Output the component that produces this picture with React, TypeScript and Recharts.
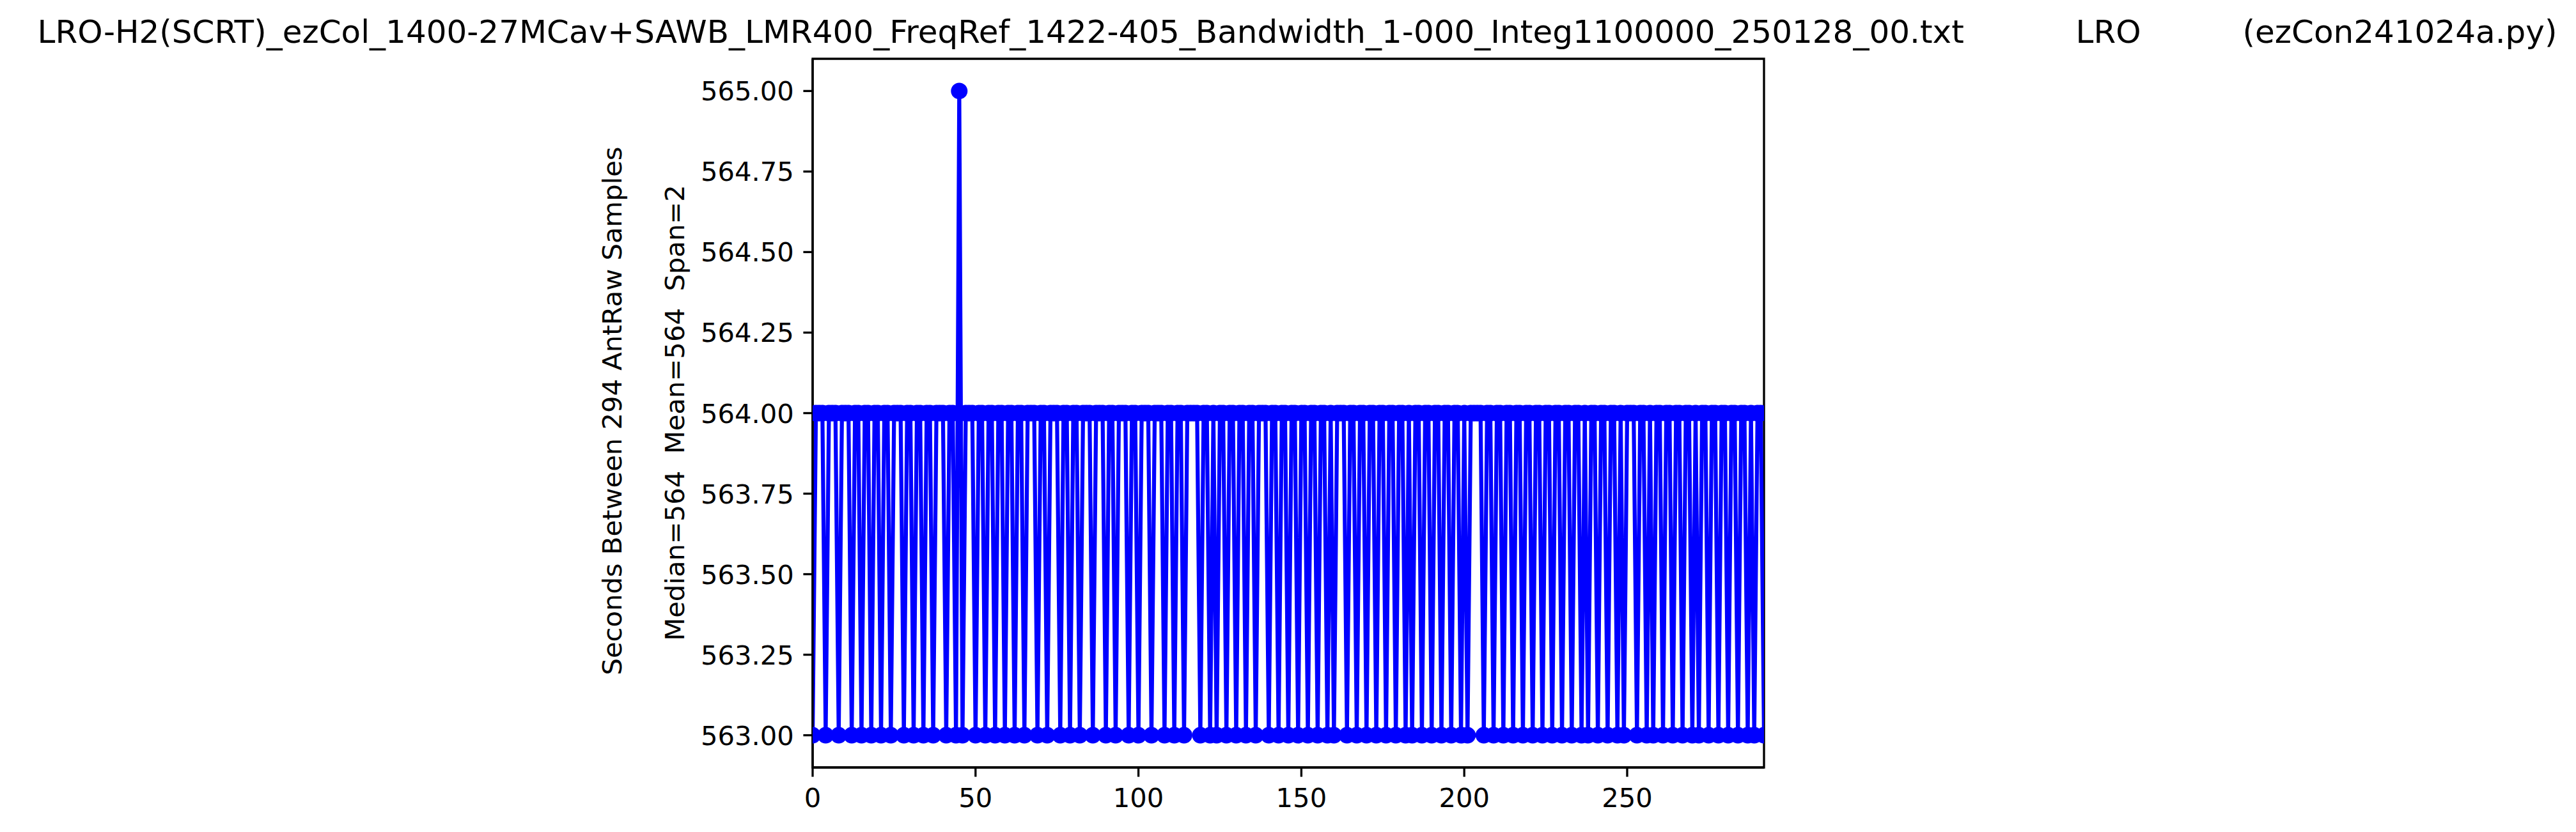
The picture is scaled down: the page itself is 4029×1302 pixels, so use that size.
import React from "react";
import { LineChart, Line, XAxis, YAxis, ReferenceArea } from "recharts";

// seconds between consecutive raw samples (293 gaps for 294 samples)
const gapSeconds = [
  563, 564, 564, 564, 563, 564, 564, 564, 563, 564,
  564, 564, 563, 564, 564, 563, 564, 564, 563, 564,
  564, 563, 564, 564, 563, 564, 564, 564, 563, 564,
  564, 563, 564, 564, 563, 564, 564, 563, 564, 564,
  564, 563, 564, 564, 563, 565, 563, 564, 564, 564,
  563, 564, 564, 563, 564, 564, 563, 564, 564, 563,
  564, 564, 563, 564, 564, 563, 564, 564, 564, 563,
  564, 564, 563, 564, 564, 564, 563, 564, 564, 563,
  564, 564, 563, 564, 564, 564, 563, 564, 564, 564,
  563, 564, 564, 563, 564, 564, 564, 563, 564, 564,
  563, 564, 564, 564, 563, 564, 564, 564, 563, 564,
  564, 563, 564, 564, 563, 564, 564, 564, 564, 563,
  564, 564, 563, 564, 563, 564, 564, 563, 564, 564,
  563, 564, 564, 563, 564, 564, 563, 564, 564, 564,
  563, 564, 564, 563, 564, 564, 563, 564, 564, 563,
  564, 564, 563, 564, 564, 563, 564, 564, 563, 564,
  563, 564, 564, 564, 563, 564, 564, 563, 564, 564,
  563, 564, 564, 563, 564, 564, 563, 564, 564, 563,
  564, 564, 563, 564, 563, 564, 564, 563, 564, 564,
  563, 564, 564, 563, 564, 564, 563, 564, 564, 563,
  564, 563, 564, 564, 564, 564, 563, 564, 564, 563,
  564, 564, 563, 564, 564, 563, 564, 564, 563, 564,
  564, 563, 564, 564, 563, 564, 564, 563, 564, 564,
  563, 564, 564, 563, 564, 564, 563, 564, 563, 564,
  564, 563, 564, 564, 563, 564, 564, 563, 564, 563,
  564, 564, 564, 563, 564, 564, 563, 564, 563, 564,
  564, 563, 564, 564, 563, 564, 564, 563, 564, 564,
  563, 564, 563, 564, 564, 563, 564, 564, 563, 564,
  564, 563, 564, 564, 563, 564, 564, 563, 564, 563,
  564, 564, 563,
];

const xTicks = [0, 50, 100, 150, 200, 250];
const yTicks = [563, 563.25, 563.5, 563.75, 564, 564.25, 564.5, 564.75, 565];
const xDomain = [0, 292];
const yDomain = [562.9, 565.1];

const titleText =
  "LRO-H2(SCRT)_ezCol_1400-27MCav+SAWB_LMR400_FreqRef_1422-405_Bandwidth_1-000_Integ1100000_250128_00.txt           LRO          (ezCon241024a.py)";
const yLabel1 = "Seconds Between 294 AntRaw Samples";
const yLabel2 = "Median=564  Mean=564  Span=2";

const data = gapSeconds.map((v, i) => ({ idx: i, sec: v }));

const FONT = "DejaVu Sans";
const W = 4029;
const H = 1302;
const SPINE = 3.33;
const Y_AXIS_W = 150;
const X_AXIS_H = 80;

const YTick = (props: any) => (
  <text
    x={props.x}
    y={props.y + 15}
    textAnchor="end"
    fontFamily={FONT}
    fontSize={41.7}
    fill="#000"
  >
    {Number(props.payload.value).toFixed(2)}
  </text>
);

const XTick = (props: any) => (
  <text
    x={props.x}
    y={props.y + 33}
    textAnchor="middle"
    fontFamily={FONT}
    fontSize={41.7}
    fill="#000"
  >
    {props.payload.value}
  </text>
);

export default function App() {
  return (
    <div style={{ position: "absolute", left: 0, top: 0, width: W, height: H, background: "#fff" }}>
      <LineChart
        width={W}
        height={H}
        data={data}
        margin={{ top: 92, right: W - 2759, bottom: H - 1201 - X_AXIS_H, left: 1271 - Y_AXIS_W }}
      >
        <XAxis
          dataKey="idx"
          type="number"
          domain={xDomain}
          ticks={xTicks}
          allowDataOverflow
          height={X_AXIS_H}
          tickSize={14.6}
          tickMargin={14.6}
          axisLine={{ stroke: "#000", strokeWidth: SPINE }}
          tickLine={{ stroke: "#000", strokeWidth: SPINE }}
          tick={<XTick />}
        />
        <YAxis
          type="number"
          domain={yDomain}
          ticks={yTicks}
          allowDataOverflow
          width={Y_AXIS_W}
          tickSize={14.6}
          tickMargin={14.6}
          axisLine={{ stroke: "#000", strokeWidth: SPINE }}
          tickLine={{ stroke: "#000", strokeWidth: SPINE }}
          tick={<YTick />}
        />
        <Line
          type="linear"
          dataKey="sec"
          stroke="#0000ff"
          strokeWidth={6.25}
          dot={{ r: 11, fill: "#0000ff", stroke: "#0000ff", strokeWidth: 4 }}
          activeDot={false}
          isAnimationActive={false}
        />
        {/* frame for the top and right spines */}
        <ReferenceArea
          x1={xDomain[0]}
          x2={xDomain[1]}
          y1={yDomain[0]}
          y2={yDomain[1]}
          fill="none"
          fillOpacity={0}
          stroke="#000"
          strokeWidth={SPINE}
          strokeOpacity={1}
          ifOverflow="visible"
        />
      </LineChart>
      <svg
        width={W}
        height={H}
        style={{ position: "absolute", left: 0, top: 0, pointerEvents: "none" }}
      >
        <text
          x={2029}
          y={67}
          textAnchor="middle"
          fontFamily={FONT}
          fontSize={50}
          fill="#000"
          style={{ whiteSpace: "pre" }}
        >
          {titleText}
        </text>
        <text
          transform="translate(972, 643) rotate(-90)"
          textAnchor="middle"
          fontFamily={FONT}
          fontSize={41.7}
          fill="#000"
        >
          {yLabel1}
        </text>
        <text
          transform="translate(1070, 646) rotate(-90)"
          textAnchor="middle"
          fontFamily={FONT}
          fontSize={41.7}
          fill="#000"
          style={{ whiteSpace: "pre" }}
        >
          {yLabel2}
        </text>
      </svg>
    </div>
  );
}
